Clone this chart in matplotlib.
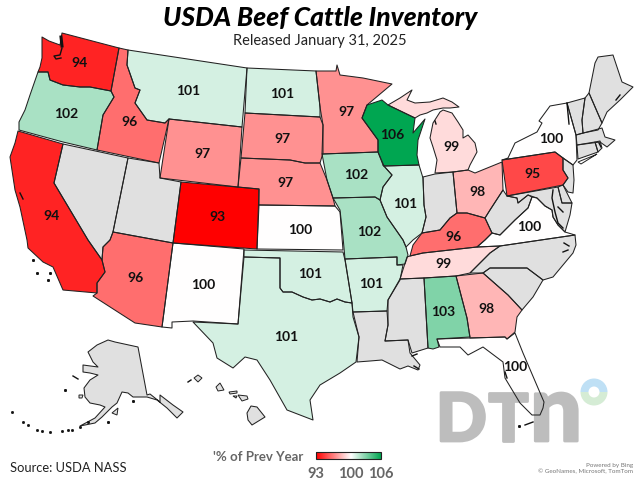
import numpy as np
from matplotlib import pyplot as plt
from matplotlib import patheffects
from matplotlib.cm import ScalarMappable
from matplotlib.collections import PolyCollection
from matplotlib.colors import LinearSegmentedColormap, Normalize
from matplotlib.patches import Wedge, Polygon

# state values, nan means no data
states = ['WA', 'OR', 'CA', 'NV', 'ID', 'MT', 'WY', 'UT', 'CO', 'AZ', 'NM', 'ND', 'SD', 'NE', 'KS', 'OK', 'TX',
          'MN', 'IA', 'MO', 'AR', 'LA', 'WI', 'IL', 'MI', 'MI_UP', 'IN', 'OH', 'KY', 'TN', 'MS', 'AL', 'GA', 'FL',
          'SC', 'NC', 'VA', 'WV', 'PA', 'NY', 'VT', 'NH', 'ME', 'MA', 'CT', 'RI', 'NJ', 'DE', 'MD', 'AK', 'HI']
values = [94, 102, 94, np.nan, 96, 101, 97, np.nan, 93, 96, 100, 101, 97, 97, 100, 101, 101,
          97, 102, 102, 101, np.nan, 106, 101, 99, 99, np.nan, 98, 96, 99, np.nan, 103, 98, 100,
          np.nan, np.nan, 100, np.nan, 95, 100, np.nan, np.nan, np.nan, np.nan, np.nan, np.nan, np.nan, np.nan, np.nan,
          np.nan, np.nan]
labelled = {'WA': (80, 63), 'OR': (66, 114), 'CA': (52, 216), 'ID': (129, 122), 'MT': (188, 91), 'WY': (202, 154),
            'CO': (217, 217), 'AZ': (136, 278), 'NM': (203, 285), 'ND': (282, 94), 'SD': (282, 139), 'NE': (285, 183),
            'KS': (300, 230), 'OK': (310, 274), 'TX': (286, 337), 'MN': (346, 112), 'IA': (356, 175), 'MO': (369, 232),
            'AR': (371, 284), 'WI': (392, 135), 'IL': (405, 204), 'MI': (451, 147), 'OH': (477, 192), 'KY': (454, 237),
            'TN': (444, 264), 'AL': (443, 312), 'GA': (486, 309), 'FL': (515, 367), 'PA': (532, 174), 'NY': (551, 139),
            'VA': (529, 227)}

# outlines, in pixels
outlines = {
    'WA': [(42, 37), (49, 41), (60, 45), (62, 33), (119, 48), (111, 91), (90, 87), (80, 87), (63, 85), (50, 80), (48, 72), (38, 72), (40, 67), (42, 58)],
    'OR': [(38, 72), (48, 72), (50, 80), (63, 85), (80, 87), (90, 87), (111, 91), (114, 97), (103, 115), (97, 150), (63, 142), (19, 130), (19, 122), (25, 110), (30, 95)],
    'CA': [(18, 131), (63, 144), (54, 183), (88, 240), (102, 260), (105, 272), (97, 283), (97, 293), (63, 290), (53, 267), (43, 262), (28, 248), (27, 240), (20, 207), (15, 190), (10, 157), (15, 143)],
    'NV': [(63, 144), (128, 158), (113, 232), (110, 240), (103, 247), (102, 260), (88, 240), (54, 183)],
    'ID': [(119, 48), (128, 50), (127, 65), (135, 88), (140, 90), (135, 103), (147, 120), (165, 123), (169, 119), (159, 163), (97, 150), (103, 115), (114, 97), (111, 91)],
    'MT': [(128, 50), (247, 68), (242, 127), (169, 119), (165, 123), (147, 120), (135, 103), (140, 90), (135, 88), (127, 65)],
    'WY': [(169, 119), (242, 127), (238, 187), (160, 178)],
    'UT': [(128, 158), (159, 163), (160, 178), (181, 182), (173, 243), (113, 232)],
    'CO': [(181, 182), (259, 189), (257, 249), (173, 243)],
    'AZ': [(113, 232), (173, 243), (162, 327), (135, 323), (93, 296), (97, 293), (97, 283), (105, 272), (102, 260), (103, 247), (110, 240)],
    'NM': [(173, 243), (244, 249), (238, 324), (193, 321), (172, 322), (172, 328), (162, 327)],
    'ND': [(247, 68), (316, 71), (320, 107), (320, 117), (245, 113)],
    'SD': [(245, 113), (320, 117), (323, 125), (323, 153), (320, 163), (305, 163), (290, 160), (241, 158)],
    'NE': [(241, 158), (290, 160), (305, 163), (320, 163), (327, 180), (333, 198), (335, 206), (259, 205), (259, 189), (238, 187)],
    'KS': [(259, 205), (335, 206), (340, 212), (343, 250), (257, 249)],
    'OK': [(244, 250), (343, 252), (345, 260), (352, 303), (345, 302), (337, 299), (330, 302), (320, 299), (312, 300), (303, 297), (292, 292), (283, 292), (280, 288), (280, 258), (244, 257)],
    'TX': [(244, 257), (280, 258), (280, 288), (283, 292), (292, 292), (303, 297), (312, 300), (320, 299), (330, 302), (337, 299), (345, 302), (352, 303), (353, 317), (359, 337), (356, 362), (340, 373), (320, 385), (310, 400), (313, 420), (287, 410), (270, 380), (257, 360), (245, 357), (233, 368), (217, 358), (213, 343), (193, 322), (238, 324)],
    'MN': [(316, 71), (336, 71), (337, 65), (340, 75), (363, 78), (392, 84), (367, 105), (362, 118), (378, 140), (378, 152), (322, 154), (323, 125), (320, 107)],
    'IA': [(322, 154), (378, 152), (383, 165), (392, 175), (383, 187), (380, 200), (375, 197), (333, 198), (327, 180)],
    'MO': [(333, 198), (375, 197), (380, 200), (387, 217), (403, 240), (406, 247), (408, 255), (405, 264), (397, 265), (397, 257), (345, 259), (343, 237), (340, 210)],
    'AR': [(345, 259), (397, 257), (397, 265), (403, 265), (400, 280), (388, 300), (387, 311), (353, 312), (352, 303)],
    'LA': [(353, 312), (387, 311), (388, 325), (385, 341), (408, 340), (410, 353), (420, 365), (418, 370), (408, 366), (400, 369), (382, 360), (370, 361), (357, 362), (359, 337)],
    'WI': [(367, 105), (382, 100), (388, 105), (415, 118), (413, 133), (425, 119), (418, 140), (417, 155), (419, 165), (384, 166), (378, 152), (378, 140), (362, 118)],
    'IL': [(384, 166), (419, 165), (423, 178), (424, 205), (426, 217), (422, 233), (413, 240), (406, 247), (403, 240), (387, 217), (380, 200), (383, 187), (392, 175), (383, 165)],
    'MI': [(443, 110), (452, 113), (458, 122), (463, 130), (463, 138), (468, 135), (475, 143), (477, 152), (470, 165), (468, 170), (453, 172), (435, 173), (437, 160), (433, 147), (430, 138), (433, 123), (440, 112)],
    'MI_UP': [(388, 105), (400, 98), (412, 90), (407, 100), (415, 103), (430, 102), (443, 98), (452, 102), (459, 107), (450, 108), (443, 108), (433, 110), (427, 113), (420, 115), (415, 118)],
    'IN': [(423, 177), (435, 174), (453, 172), (457, 213), (450, 218), (440, 230), (422, 233), (426, 217), (424, 205)],
    'OH': [(453, 172), (468, 170), (475, 173), (502, 162), (503, 190), (490, 210), (485, 218), (467, 213), (457, 213)],
    'KY': [(422, 233), (440, 230), (450, 218), (457, 213), (467, 213), (485, 218), (492, 233), (485, 240), (477, 247), (423, 253), (410, 256), (413, 245)],
    'TN': [(423, 253), (477, 247), (500, 246), (490, 253), (470, 273), (456, 276), (424, 278), (400, 279), (407, 257), (410, 256)],
    'MS': [(400, 279), (424, 278), (428, 348), (412, 353), (408, 340), (385, 341), (388, 325), (388, 300)],
    'AL': [(424, 278), (456, 276), (467, 318), (470, 337), (437, 339), (439, 347), (433, 349), (428, 348)],
    'GA': [(456, 276), (483, 273), (508, 295), (522, 310), (517, 317), (515, 332), (507, 339), (505, 337), (470, 338), (467, 318)],
    'FL': [(437, 339), (470, 338), (505, 337), (507, 339), (515, 333), (523, 353), (544, 402), (543, 408), (540, 415), (532, 415), (520, 403), (505, 378), (503, 362), (483, 347), (468, 355), (460, 347), (440, 347)],
    'SC': [(483, 273), (490, 268), (527, 268), (543, 280), (533, 297), (522, 310), (508, 295)],
    'NC': [(500, 246), (575, 235), (576, 245), (573, 253), (553, 277), (543, 280), (527, 268), (490, 268), (483, 273), (470, 273), (490, 253)],
    'VA': [(477, 247), (485, 240), (492, 233), (500, 235), (515, 220), (528, 208), (532, 197), (537, 198), (545, 206), (552, 210), (553, 217), (558, 225), (565, 232), (575, 235), (500, 246)],
    'WV': [(503, 190), (507, 196), (517, 198), (518, 203), (528, 195), (532, 197), (528, 208), (515, 220), (500, 235), (492, 233), (485, 218), (490, 210)],
    'PA': [(502, 160), (555, 152), (563, 158), (563, 170), (568, 178), (563, 185), (507, 196)],
    'NY': [(502, 160), (508, 158), (515, 143), (537, 132), (542, 123), (539, 121), (550, 106), (567, 103), (576, 135), (577, 160), (573, 165), (563, 158), (555, 152)],
    'VT': [(567, 103), (585, 98), (582, 120), (583, 133), (576, 135)],
    'NH': [(585, 98), (589, 93), (602, 123), (598, 130), (583, 133), (582, 120)],
    'ME': [(589, 93), (595, 63), (598, 57), (613, 55), (622, 82), (633, 87), (620, 100), (607, 112), (602, 123)],
    'MA': [(576, 135), (602, 128), (605, 137), (615, 140), (607, 147), (600, 142), (577, 145)],
    'CT': [(577, 145), (595, 142), (598, 152), (578, 159)],
    'RI': [(595, 142), (600, 141), (602, 148), (598, 152)],
    'NJ': [(563, 158), (573, 165), (574, 180), (573, 193), (568, 192), (563, 185), (568, 178), (563, 170)],
    'DE': [(558, 187), (563, 185), (572, 203), (562, 203)],
    'MD': [(507, 196), (558, 187), (562, 203), (572, 203), (570, 215), (565, 232), (558, 225), (553, 217), (552, 210), (545, 206), (537, 198), (528, 195), (518, 203), (517, 198)],
    'AK': [(108, 340), (115, 342), (138, 347), (147, 395), (150, 394), (160, 402), (160, 395), (173, 405), (183, 412), (177, 418), (167, 408), (157, 400), (147, 397), (133, 397), (128, 393), (122, 392), (117, 403), (112, 407), (102, 417), (95, 423), (80, 426), (95, 418), (105, 407), (100, 405), (90, 403), (85, 397), (84, 388), (90, 380), (98, 375), (90, 373), (83, 372), (83, 365), (98, 367), (93, 362), (88, 352), (97, 345)],
    'HI': [(247, 413), (251, 406), (257, 407), (265, 417), (252, 425), (248, 420)],
}
small_islands = [
    [(194, 378), (198, 375), (202, 378), (198, 382)],
    [(216, 387), (220, 383), (224, 390), (218, 391)],
    [(238, 395), (247, 396), (248, 399), (242, 401)],
    [(229, 392), (237, 391), (237, 393), (230, 394)],
    [(233, 396), (237, 396), (236, 398)],
    [(112, 413), (118, 408), (117, 415)],
    [(79, 395), (83, 395), (82, 398), (79, 398)],
]
white_islands = [
    [(578, 162), (595, 155), (597, 154), (581, 164)],
]
black_marks = [
    [(61, 37), (62, 46)],
    [(62, 48), (60, 55), (54, 56), (56, 59), (61, 58)],
    [(567, 103), (569, 124)],
    [(553, 190), (552, 198), (555, 212), (558, 223), (563, 228)],
    [(558, 207), (563, 212)],
    [(616, 100), (620, 95)],
    [(564, 243), (569, 246)],
    [(563, 252), (568, 250)],
    [(412, 356), (417, 354)],
    [(414, 366), (419, 369)],
    [(525, 425), (533, 422)],
    [(435, 121), (436, 124)],
    [(599, 143), (601, 147)],
    [(507, 378), (505, 372)],
    [(73, 376), (78, 379)],
    [(188, 382), (191, 380)],
    [(20, 193), (23, 199)],
]
aleutian_x = [12, 23, 28, 37, 42, 50, 62, 68, 72, 80, 88]
aleutian_y = [412, 422, 425, 430, 431, 432, 431, 430, 430, 427, 422]
dot_x = [33, 37, 50, 48, 65, 108, 133, 519]
dot_y = [260, 273, 273, 280, 390, 422, 401, 426]

legend_ticks = [93, 100, 106]

cmap = LinearSegmentedColormap.from_list('prev_year', [(0, '#ff0000'), (7 / 13, '#ffffff'), (1, '#00a651')])
cmap.set_bad('#e0e0e0')
norm = Normalize(93, 106)

plt.rcParams['font.family'] = ['Lato', 'DejaVu Sans']
fig = plt.figure(figsize=(6.4, 4.8), dpi=100)
ax = fig.add_axes([0, 0, 1, 1])
ax.set_xlim(0, 640)
ax.set_ylim(480, 0)
ax.axis('off')

shapes = [outlines[s] for s in states]
ax.add_collection(PolyCollection(shapes, array=np.ma.masked_invalid(values), cmap=cmap, norm=norm,
                                 edgecolors='none', zorder=2))

# logo shows over the fills but under the state lines
thicker = [patheffects.withStroke(linewidth=2, foreground='#bdbdbd')]
ax.text(436, 441, 'D', fontsize=48, fontweight='black', color='#bdbdbd', ha='left', va='baseline', zorder=3,
        path_effects=thicker)
ax.text(508, 441, 'T', fontsize=48, fontweight='black', color='#bdbdbd', ha='center', va='baseline', zorder=3,
        path_effects=thicker)
ax.text(556, 441, 'n', fontsize=66, fontweight='black', color='#bdbdbd', ha='center', va='baseline', zorder=3,
        path_effects=thicker)
ax.add_patch(Wedge((594, 392), 13.5, 180, 360, width=8, fc='#bfe0f5', ec='none', zorder=3))
ax.add_patch(Wedge((594, 392), 13.5, 0, 180, width=8, fc='#d5ecd5', ec='none', zorder=3))

ax.add_collection(PolyCollection(shapes, facecolors='none', edgecolors='#222222', linewidths=0.75, zorder=4))

for island in small_islands:
    ax.add_patch(Polygon(island, fc='#e0e0e0', ec='#222222', lw=0.7, zorder=4))
for island in white_islands:
    ax.add_patch(Polygon(island, fc='white', ec='#222222', lw=0.7, zorder=4))
for i, mark in enumerate(black_marks):
    ax.plot(*zip(*mark), color='#111111', lw=2.2 if i == 0 else 1.0, zorder=5)
ax.plot(aleutian_x, aleutian_y, ls='none', marker='s', ms=1.0, color='#111111', zorder=5)
ax.plot(dot_x, dot_y, ls='none', marker='s', ms=1.1, color='#111111', zorder=5)

for s, v in zip(states, values):
    if s in labelled:
        x, y = labelled[s]
        ax.text(x, y, '%d' % v, fontsize=10, fontweight='bold', color='#111111', ha='center', va='center', zorder=6)

ax.text(320, 18, 'USDA Beef Cattle Inventory', fontsize=19, fontweight='black', style='italic', color='black',
        ha='center', va='center')
ax.text(320, 41, 'Released January 31, 2025', fontsize=10.5, color='#222222', ha='center', va='center')
ax.text(10, 468, 'Source: USDA NASS', fontsize=9.3, color='#222222', ha='left', va='center')
ax.text(213, 457, "'% of Prev Year", fontsize=9.5, fontweight='bold', color='#666666', ha='left', va='center')
ax.text(633, 465, 'Powered by Bing', fontsize=4.5, color='#777777', ha='right', va='center')
ax.text(633, 472, '© GeoNames, Microsoft, TomTom', fontsize=4.5, color='#777777', ha='right', va='center')

cax = fig.add_axes([316 / 640, 1 - 459 / 480, 65 / 640, 7 / 480])
bar = fig.colorbar(ScalarMappable(norm=norm, cmap=cmap), cax=cax, orientation='horizontal', ticks=legend_ticks)
bar.ax.tick_params(length=0, pad=6, labelsize=10.5, labelcolor='#666666')
for lab in bar.ax.get_xticklabels():
    lab.set_fontweight('bold')
bar.outline.set_edgecolor('#222222')
bar.outline.set_linewidth(0.8)

fig.savefig('out.png', dpi=100)
